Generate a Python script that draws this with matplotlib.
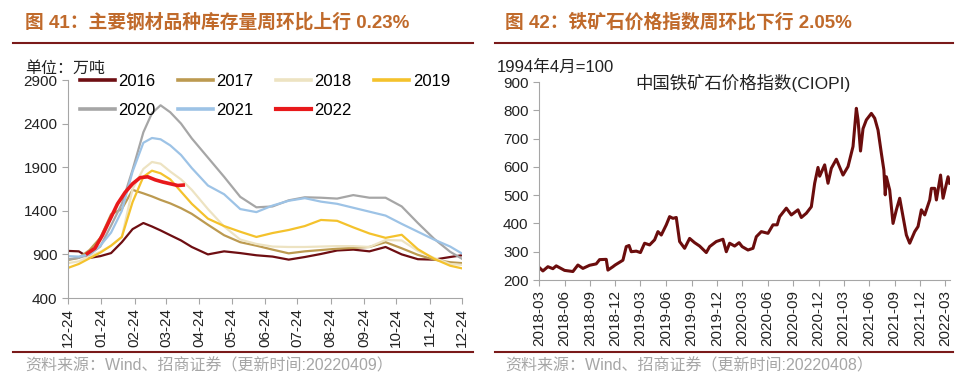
import matplotlib
matplotlib.use('Agg')
import matplotlib.pyplot as plt
import matplotlib.dates as mdates
from matplotlib.lines import Line2D
import pandas as pd

plt.rcParams['font.family'] = ['Liberation Sans', 'Noto Sans CJK SC']

# ---- left chart: weekly steel inventory by year (days from 12-24) ----
days = [0, 10, 20, 30, 40, 50, 60, 70, 78, 86, 95, 105, 115, 130, 145,
        160, 175, 190, 205, 220, 235, 250, 265, 280, 295, 310, 325, 340, 355, 366]
inv_2016 = [940, 935, 860, 880, 915, 1040, 1190, 1260, 1220, 1175, 1120, 1060, 985, 900, 935,
            915, 890, 875, 840, 870, 905, 945, 955, 935, 985, 900, 845, 840, 870, 890]
inv_2017 = [836, 860, 950, 1090, 1360, 1420, 1640, 1600, 1565, 1525, 1485, 1430, 1365, 1240, 1120,
            1040, 1000, 955, 912, 935, 950, 965, 975, 985, 1040, 970, 895, 840, 810, 800]
inv_2018 = [800, 820, 880, 930, 1000, 1100, 1650, 1880, 1960, 1940, 1850, 1760, 1640, 1420, 1220,
            1070, 1020, 990, 985, 985, 990, 995, 995, 985, 1065, 1060, 940, 860, 790, 780]
inv_2019 = [745, 790, 855, 920, 1000, 1100, 1500, 1790, 1860, 1830, 1760, 1620, 1480, 1310, 1225,
            1160, 1100, 1145, 1180, 1225, 1295, 1285, 1210, 1140, 1090, 1125, 960, 850, 770, 740]
inv_2020 = [845, 860, 900, 990, 1230, 1480, 1870, 2300, 2520, 2610, 2530, 2400, 2230, 2010, 1790,
            1560, 1440, 1450, 1520, 1555, 1550, 1540, 1580, 1550, 1550, 1450, 1260, 1080, 930, 850]
inv_2021 = [880, 875, 900, 1000, 1150, 1400, 1850, 2180, 2235, 2220, 2150, 2040, 1890, 1690, 1590,
            1420, 1385, 1460, 1515, 1545, 1505, 1480, 1435, 1390, 1345, 1250, 1160, 1070, 990, 910]
days_2022 = [18, 25, 32, 39, 46, 53, 60, 67, 74, 81, 88, 95, 102, 107]
inv_2022 = [910, 970, 1120, 1300, 1480, 1610, 1710, 1780, 1790, 1755, 1730, 1710, 1690, 1695]

month_ticks = [0, 31, 62, 91, 122, 152, 183, 213, 244, 275, 305, 336, 366]
month_labels = ['12-24', '01-24', '02-24', '03-24', '04-24', '05-24', '06-24',
                '07-24', '08-24', '09-24', '10-24', '11-24', '12-24']

# ---- right chart: CIOPI iron ore price index ----
ore_dates = ['2018-03-01', '2018-03-15', '2018-04-02', '2018-04-20', '2018-05-02', '2018-06-01',
             '2018-07-01', '2018-07-19', '2018-08-06', '2018-08-30', '2018-09-23', '2018-10-05',
             '2018-10-29', '2018-11-04', '2018-11-22', '2018-11-30', '2018-12-28', '2019-01-09',
             '2019-01-19', '2019-01-27', '2019-02-14', '2019-03-01', '2019-03-16', '2019-04-03',
             '2019-04-21', '2019-05-03', '2019-05-15', '2019-06-02', '2019-06-14', '2019-06-26',
             '2019-07-08', '2019-07-20', '2019-08-07', '2019-08-25', '2019-09-12', '2019-09-30',
             '2019-10-24', '2019-11-05', '2019-11-29', '2019-12-23', '2020-01-04', '2020-01-16',
             '2020-02-03', '2020-02-19', '2020-03-01', '2020-03-22', '2020-04-09', '2020-04-21',
             '2020-05-09', '2020-06-02', '2020-06-20', '2020-07-05', '2020-07-14', '2020-08-07',
             '2020-08-25', '2020-09-18', '2020-09-30', '2020-10-18', '2020-11-05', '2020-11-17',
             '2020-11-29', '2020-12-05', '2020-12-23', '2021-01-04', '2021-01-16', '2021-02-03',
             '2021-02-27', '2021-03-17', '2021-04-04', '2021-04-16', '2021-04-22', '2021-05-01',
             '2021-05-10', '2021-05-22', '2021-06-09', '2021-06-21', '2021-07-03', '2021-07-15',
             '2021-07-24', '2021-07-29', '2021-08-02', '2021-08-14', '2021-08-26', '2021-09-07',
             '2021-09-19', '2021-10-01', '2021-10-13', '2021-10-25', '2021-11-12', '2021-11-24',
             '2021-12-06', '2021-12-18', '2022-01-05', '2022-01-11', '2022-01-23', '2022-01-29',
             '2022-02-13', '2022-02-22', '2022-03-12', '2022-03-18']
ore_index = [245, 232, 247, 240, 250, 234,
             230, 253, 241, 252, 257, 272,
             273, 235, 247, 253, 270, 318,
             322, 300, 302, 297, 330, 324,
             342, 371, 359, 395, 424, 418,
             421, 336, 312, 347, 332, 320,
             297, 318, 336, 344, 300, 330,
             320, 332, 318, 306, 312, 353,
             371, 365, 395, 395, 424, 454,
             430, 448, 421, 436, 459, 542,
             598, 567, 607, 542, 595, 627,
             571, 601, 672, 807, 766, 656,
             735, 766, 789, 772, 730, 648,
             589, 501, 565, 518, 400, 448,
             489, 424, 359, 330, 371, 389,
             448, 430, 483, 524, 524, 483,
             571, 489, 565, 542]

fig = plt.figure(figsize=(9.8, 3.88), dpi=100)
W, H = 980, 388


def fx(px):
    return px / W


def fy(py):
    return 1 - py / H


title_color = '#C06A2B'
rule_color = '#7A1A1A'
axis_color = '#A6A6A6'

# ---- left axes ----
ax1 = fig.add_axes([fx(68), fy(298), fx(462) - fx(68), fy(80) - fy(298)])
ax1.plot(days, inv_2016, color='#6E0E12', lw=1.6, label='2016')
ax1.plot(days, inv_2017, color='#BC9A50', lw=1.6, label='2017')
ax1.plot(days, inv_2018, color='#EDE3C2', lw=1.6, label='2018')
ax1.plot(days, inv_2019, color='#F4C22C', lw=1.6, label='2019')
ax1.plot(days, inv_2020, color='#A6A6A6', lw=1.6, label='2020')
ax1.plot(days, inv_2021, color='#9DC3E6', lw=1.6, label='2021')
ax1.plot(days_2022, inv_2022, color='#E8191B', lw=2.6, label='2022')

ax1.set_xlim(0, 366)
ax1.set_ylim(400, 2900)
ax1.set_yticks([400, 900, 1400, 1900, 2400, 2900])
ax1.set_xticks(month_ticks)
ax1.set_xticklabels(month_labels, rotation=90)

h, l = ax1.get_legend_handles_labels()
order = [0, 4, 1, 5, 2, 6, 3]
leg = ax1.legend([h[i] for i in order], [l[i] for i in order], ncol=4, frameon=False,
                 fontsize=12, handlelength=2.1, handletextpad=0.2, columnspacing=1.35,
                 labelspacing=0.85, borderpad=0, borderaxespad=0,
                 loc='upper left', bbox_to_anchor=(fx(80), fy(74)),
                 bbox_transform=fig.transFigure)
for lh in leg.legend_handles:
    lh.set_linewidth(3 if lh.get_color() == '#E8191B' else 2.6)

# ---- right axes ----
ax2 = fig.add_axes([fx(539), fy(280), fx(950) - fx(539), fy(82) - fy(280)])
ax2.plot(pd.to_datetime(ore_dates), ore_index, color='#6B0D0D', lw=2.2)
ax2.set_xlim(pd.Timestamp('2018-03-01'), pd.Timestamp('2022-03-19'))
ax2.set_ylim(200, 900)
ax2.set_yticks(range(200, 901, 100))
ax2.xaxis.set_major_locator(mdates.MonthLocator(bymonth=[3, 6, 9, 12]))
ax2.xaxis.set_major_formatter(mdates.DateFormatter('%Y-%m'))
for lab in ax2.get_xticklabels():
    lab.set_rotation(90)

for ax in (ax1, ax2):
    ax.spines['top'].set_visible(False)
    ax.spines['right'].set_visible(False)
    ax.spines['left'].set_color(axis_color)
    ax.spines['bottom'].set_color(axis_color)
    ax.tick_params(colors=axis_color, labelcolor='#222222', labelsize=11, length=4, width=0.8)

# ---- titles, rules, notes ----
fig.text(fx(25), fy(22), '图 41：主要钢材品种库存量周环比上行 0.23%', fontsize=13.5,
         fontweight='bold', color=title_color, va='center')
fig.text(fx(505), fy(22), '图 42：铁矿石价格指数周环比下行 2.05%', fontsize=13.5,
         fontweight='bold', color=title_color, va='center')

for x0, x1 in ((13, 473), (495, 953)):
    fig.add_artist(Line2D([fx(x0), fx(x1)], [fy(43), fy(43)], color=rule_color, lw=1.5))
    fig.add_artist(Line2D([fx(x0), fx(x1)], [fy(352), fy(352)], color=rule_color, lw=1.5))

fig.text(fx(25), fy(68), '单位：万吨', fontsize=11.5, color='#222222', va='center')
fig.text(fx(497), fy(67), '1994年4月=100', fontsize=12, color='#222222', va='center')
fig.text(fx(743), fy(83), '中国铁矿石价格指数(CIOPI)', fontsize=12.5, color='#222222',
         va='center', ha='center')

fig.text(fx(25), fy(366), '资料来源：Wind、招商证券（更新时间:20220409）', fontsize=11.5,
         color='#A6A6A6', va='center')
fig.text(fx(505), fy(366), '资料来源：Wind、招商证券（更新时间:20220408）', fontsize=11.5,
         color='#A6A6A6', va='center')

fig.savefig('out.png', dpi=100)
